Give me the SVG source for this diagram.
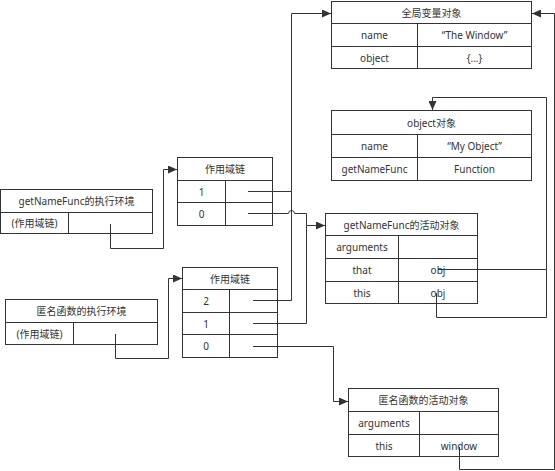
<svg xmlns="http://www.w3.org/2000/svg" width="555" height="471" viewBox="0 0 555 471">
<style>
.b{fill:#fff;stroke:#333;stroke-width:1}
.l{fill:none;stroke:#333;stroke-width:1}
.c{fill:none;stroke:#333;stroke-width:1}
text{font-family:"Noto Sans","Noto Sans CJK SC",sans-serif;font-size:10px;fill:#333;text-anchor:middle;dominant-baseline:central}
</style>
<defs>
<marker id="a" markerUnits="userSpaceOnUse" markerWidth="9" markerHeight="8" refX="9" refY="4" orient="auto">
<path d="M0,0 L9,4 L0,8 z" fill="#333"/>
</marker>
</defs>
<rect width="555" height="471" fill="#fff"/>
<g id="global">
<rect class="b" x="331.5" y="1.5" width="200" height="67"/>
<path class="l" d="M331.5,23.5H531.5M331.5,46.5H531.5M417.5,23.5V68.5"/>
<text x="431.5" y="12.5">全局变量对象</text>
<text x="374.5" y="35">name</text><text x="474.5" y="35">“The Window”</text>
<text x="374.5" y="57.5">object</text><text x="474.5" y="57.5">{...}</text>
</g>
<g id="object">
<rect class="b" x="331.5" y="110.5" width="200" height="70"/>
<path class="l" d="M331.5,134.5H531.5M331.5,157.5H531.5M417.5,134.5V180.5"/>
<text x="431.5" y="122.5">object对象</text>
<text x="374.5" y="146">name</text><text x="474.5" y="146">“My Object”</text>
<text x="374.5" y="169">getNameFunc</text><text x="474.5" y="169">Function</text>
</g>
<g id="gnfExec">
<rect class="b" x="0.5" y="189.5" width="152" height="44"/>
<path class="l" d="M0.5,212.5H152.5M68.5,212.5V233.5"/>
<text x="76.5" y="201">getNameFunc的执行环境</text>
<text x="34.5" y="223">(作用域链)</text>
</g>
<g id="anonExec">
<rect class="b" x="5.5" y="299.5" width="152" height="45"/>
<path class="l" d="M5.5,322.5H157.5M73.5,322.5V344.5"/>
<text x="81.5" y="311">匿名函数的执行环境</text>
<text x="39.5" y="333.5">(作用域链)</text>
</g>
<g id="scope1">
<rect class="b" x="177.5" y="157.5" width="95" height="68"/>
<path class="l" d="M177.5,180.5H272.5M177.5,202.5H272.5M225.5,180.5V225.5"/>
<text x="225" y="169">作用域链</text>
<text x="201.5" y="191.5">1</text>
<text x="201.5" y="214">0</text>
</g>
<g id="scope2">
<rect class="b" x="182.5" y="267.5" width="95" height="90"/>
<path class="l" d="M182.5,289.5H277.5M182.5,312.5H277.5M182.5,334.5H277.5M229.5,289.5V357.5"/>
<text x="230" y="278.5">作用域链</text>
<text x="206" y="301">2</text>
<text x="206" y="323.5">1</text>
<text x="206" y="346">0</text>
</g>
<g id="gnfAct">
<rect class="b" x="325.5" y="213.5" width="152" height="90"/>
<path class="l" d="M325.5,235.5H477.5M325.5,258.5H477.5M325.5,281.5H477.5M398.5,235.5V303.5"/>
<text x="401.5" y="224.5">getNameFunc的活动对象</text>
<text x="362" y="247">arguments</text>
<text x="362" y="270">that</text><text x="438" y="270">obj</text>
<text x="362" y="292.5">this</text><text x="438" y="292.5">obj</text>
</g>
<g id="anonAct">
<rect class="b" x="348.5" y="388.5" width="150" height="68"/>
<path class="l" d="M348.5,411.5H498.5M348.5,434.5H498.5M419.5,411.5V456.5"/>
<text x="423.5" y="400">匿名函数的活动对象</text>
<text x="384" y="423">arguments</text>
<text x="384" y="445.5">this</text><text x="459" y="445.5">window</text>
</g>
<g id="connectors">
<path class="c" d="M110.5,224V248.5H163.5V169.5H177" marker-end="url(#a)"/>
<path class="c" d="M115.5,334V358.5H168.5V278.5H182" marker-end="url(#a)"/>
<path class="c" d="M248,191.5H291.5V13.5H331" marker-end="url(#a)"/>
<path class="c" d="M253,300.5H291.5V191.5"/>
<path class="c" d="M248,213.5H288.5A3,3 0 0 1 294.5,213.5H306.5V225.5H325" marker-end="url(#a)"/>
<path class="c" d="M253,323.5H306.5V225.5"/>
<path class="c" d="M253,346.5H333.5V401.5H348" marker-end="url(#a)"/>
<path class="c" d="M438,269.5H546.5V97.5H432.5V110" marker-end="url(#a)"/>
<path class="c" d="M436.5,293V317.5H546.5V269.5"/>
<path class="c" d="M459.5,447V469.5H554.5V13.5H532" marker-end="url(#a)"/>
</g>
</svg>
